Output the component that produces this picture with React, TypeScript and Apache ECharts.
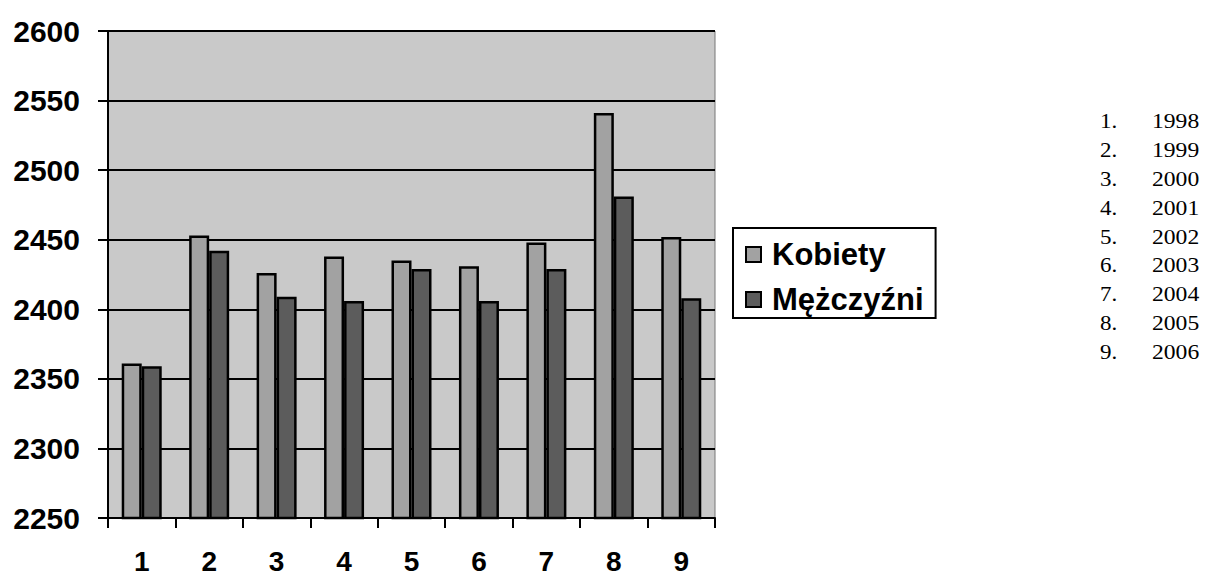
import React, { useEffect, useRef } from "react";
import * as echarts from "echarts";

const categories = ["1", "2", "3", "4", "5", "6", "7", "8", "9"];
const kobiety = [2361, 2453, 2426, 2438, 2435, 2431, 2448, 2541, 2452];
const mezczyzni = [2359, 2442, 2409, 2406, 2429, 2406, 2429, 2481, 2408];
const seriesNames = ["Kobiety", "Mężczyźni"];
const yearNumbers = ["1.", "2.", "3.", "4.", "5.", "6.", "7.", "8.", "9."];
const yearLabels = ["1998", "1999", "2000", "2001", "2002", "2003", "2004", "2005", "2006"];
const yMin = 2250;
const yMax = 2600;
const yStep = 50;

export default function App() {
  const ref = useRef<HTMLDivElement>(null);
  useEffect(() => {
    if (!ref.current) return;
    const chart = echarts.init(ref.current, undefined, { renderer: "svg" });
    const sans = "'Liberation Sans', Arial, sans-serif";
    const serif = "'Liberation Serif', 'Times New Roman', serif";
    const yearGraphics: any[] = [];
    yearNumbers.forEach((n, i) => {
      const y = 122 + i * 28.8;
      yearGraphics.push({
        type: "text",
        x: 1100,
        y,
        scaleX: 1.15,
        style: { text: n, font: `20px ${serif}`, fill: "#000", verticalAlign: "middle" },
      });
      yearGraphics.push({
        type: "text",
        x: 1152,
        y,
        scaleX: 1.18,
        style: { text: yearLabels[i], font: `20px ${serif}`, fill: "#000", verticalAlign: "middle" },
      });
    });
    chart.setOption({
      animation: false,
      grid: {
        left: 108,
        top: 31,
        right: 491,
        bottom: 57,
        show: true,
        backgroundColor: "#c9c9c9",
        borderColor: "#777",
        borderWidth: 1,
      },
      legend: {
        orient: "vertical",
        left: 733,
        top: 228,
        padding: [11, 12, 3, 12],
        itemGap: 14,
        itemWidth: 15,
        itemHeight: 15,
        borderColor: "#000",
        borderWidth: 2,
        backgroundColor: "#fff",
        icon: "rect",
        textStyle: { fontFamily: sans, fontWeight: "bold", fontSize: 31, color: "#000", padding: [0, 0, 0, 6] },
        data: seriesNames,
      },
      xAxis: {
        type: "category",
        data: categories,
        axisLine: { lineStyle: { color: "#000", width: 2 } },
        axisTick: { show: true, length: 10, lineStyle: { color: "#000", width: 2 } },
        axisLabel: { fontFamily: sans, fontWeight: "bold", fontSize: 28, color: "#000", margin: 29 },
      },
      yAxis: {
        type: "value",
        min: yMin,
        max: yMax,
        interval: yStep,
        axisLine: { show: true, lineStyle: { color: "#000", width: 2 } },
        axisTick: { show: true, length: 10, lineStyle: { color: "#000", width: 2 } },
        axisLabel: {
          fontFamily: sans,
          fontWeight: "bold",
          fontSize: 30,
          color: "#000",
          margin: 28,
          formatter: (v: number) => String(v),
        },
        splitLine: { show: true, lineStyle: { color: "#000", width: 2 } },
      },
      series: [
        {
          name: seriesNames[0],
          type: "bar",
          data: kobiety,
          barWidth: 20,
          barGap: "0%",
          itemStyle: { color: "#a2a2a2", borderColor: "#000", borderWidth: 2.5 },
        },
        {
          name: seriesNames[1],
          type: "bar",
          data: mezczyzni,
          barWidth: 20,
          itemStyle: { color: "#5c5c5c", borderColor: "#000", borderWidth: 2.5 },
        },
      ],
      graphic: yearGraphics,
    });
    return () => chart.dispose();
  }, []);
  return (
    <div
      ref={ref}
      style={{ position: "fixed", left: 0, top: 0, width: 1206, height: 575, background: "#fff" }}
    />
  );
}
